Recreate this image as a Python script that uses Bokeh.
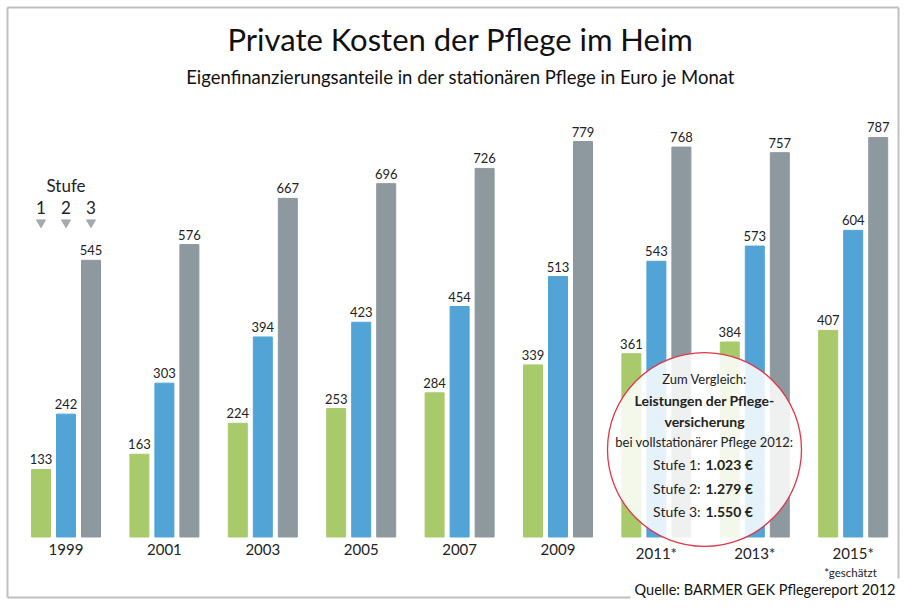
from bokeh.plotting import figure
from bokeh.models import Range1d, ColumnDataSource
from bokeh.core.properties import value
from bokeh.embed import file_html
from bokeh.resources import INLINE

# ---- data ----
years = ["1999", "2001", "2003", "2005", "2007", "2009", "2011*", "2013*", "2015*"]
stufe1 = [133, 163, 224, 253, 284, 339, 361, 384, 407]
stufe2 = [242, 303, 394, 423, 454, 513, 543, 573, 604]
stufe3 = [545, 576, 667, 696, 726, 779, 768, 757, 787]
stufe_labels = ["1", "2", "3"]
colors = ["#a8ca6b", "#52a3d6", "#8d999f"]

FONT = value("Lato")

# ---- layout ----
W, H = 901, 599
X0, GX = 65.5, 98.4      # canvas px of first group centre, px per group
Y0, SY = 536.5, 0.5077   # canvas px of baseline (from top), px per euro
BAR_W = 19 / GX
OFF = 25 / GX

def dx(rx):
    return (rx - X0) / GX

def dy(ry):
    return (Y0 - ry) / SY

p = figure(width=W, height=H, output_backend="svg", toolbar_location=None,
           x_range=Range1d(-X0 / GX, (W - X0) / GX),
           y_range=Range1d(-(H - Y0) / SY, Y0 / SY),
           x_axis_location=None, y_axis_location=None, min_border=0)
p.grid.visible = False
p.outline_line_color = None
p.background_fill_color = "white"
p.border_fill_color = "white"

idx = list(range(len(years)))
series = [stufe1, stufe2, stufe3]
for k, vals in enumerate(series):
    xs = [i + (k - 1) * OFF for i in idx]
    src = ColumnDataSource(dict(x=xs, top=vals, lab=[str(v) for v in vals]))
    p.vbar(x="x", top="top", bottom=0, width=BAR_W, color=colors[k], source=src)
    p.text(x="x", y="top", text="lab", source=src, text_align="center",
           text_baseline="bottom", y_offset=-5, text_font=FONT,
           text_font_size="13px", text_color="#222222")

# comparison circle
p.scatter(x=[dx(704)], y=[dy(449)], size=194, marker="circle",
          fill_color="white", fill_alpha=0.86, line_color="#e0374a", line_width=1.3)

cx = dx(704)
def ctext(txt, ry, size, bold=False, align="center", x=None):
    p.text(x=[cx if x is None else x], y=[dy(ry)], text=[txt], text_align=align,
           text_baseline="middle", text_font=FONT, text_font_size=size,
           text_font_style="bold" if bold else "normal", text_color="#222222")

ctext("Zum Vergleich:", 378, "13px")
ctext("Leistungen der Pflege-", 400, "14px", bold=True)
ctext("versicherung", 421, "14px", bold=True)
ctext("bei vollstationärer Pflege 2012:", 441, "13px")
for j, (s, v) in enumerate([("Stufe 1:", "1.023 €"), ("Stufe 2:", "1.279 €"),
                            ("Stufe 3:", "1.550 €")]):
    ry = 464 + j * 23.5
    ctext(s, ry, "14px", align="right", x=dx(700))
    ctext(v, ry, "14px", bold=True, align="left", x=dx(705))

# year labels
ysrc = ColumnDataSource(dict(x=idx, y=[0] * len(idx), t=years))
p.text(x="x", y="y", text="t", source=ysrc, text_align="center", text_baseline="top",
       y_offset=7, text_font=FONT, text_font_size="15px", text_color="#222222")

# legend "Stufe"
p.text(x=[0], y=[dy(185)], text=["Stufe"], text_align="center", text_baseline="middle",
       text_font=FONT, text_font_size="17px", text_color="#222222")
lx = [(k - 1) * OFF for k in range(3)]
p.text(x=lx, y=[dy(207)] * 3, text=stufe_labels, text_align="center",
       text_baseline="middle", text_font=FONT, text_font_size="17px", text_color="#222222")
p.scatter(x=lx, y=[dy(222)] * 3, marker="inverted_triangle", size=9,
          color="#a3abb0")

# titles
p.text(x=[dx(460)], y=[dy(38)], text=["Private Kosten der Pflege im Heim"],
       text_align="center", text_baseline="middle", text_font=FONT,
       text_font_size="31px", text_color="#111111")
p.text(x=[dx(460)], y=[dy(76)],
       text=["Eigenfinanzierungsanteile in der stationären Pflege in Euro je Monat"],
       text_align="center", text_baseline="middle", text_font=FONT,
       text_font_size="18.5px", text_color="#111111")

# footnotes
p.text(x=[dx(850)], y=[dy(572)], text=["*geschätzt"], text_align="center",
       text_baseline="middle", text_font=FONT, text_font_size="11.5px", text_color="#222222")
p.text(x=[dx(895)], y=[dy(589)], text=["Quelle: BARMER GEK Pflegereport 2012"],
       text_align="right", text_baseline="middle", text_font=FONT,
       text_font_size="14.5px", text_color="#111111")

# frame
fc = "#c0c0c0"
p.line(x=[dx(7), dx(7)], y=[dy(7), dy(597)], line_color=fc, line_width=2)
p.line(x=[dx(7), dx(898)], y=[dy(7), dy(7)], line_color=fc, line_width=2)
p.line(x=[dx(898), dx(898)], y=[dy(7), dy(578)], line_color=fc, line_width=2)
p.line(x=[dx(7), dx(630)], y=[dy(597), dy(597)], line_color=fc, line_width=2)

open("out.html", "w").write(file_html(p, INLINE))
